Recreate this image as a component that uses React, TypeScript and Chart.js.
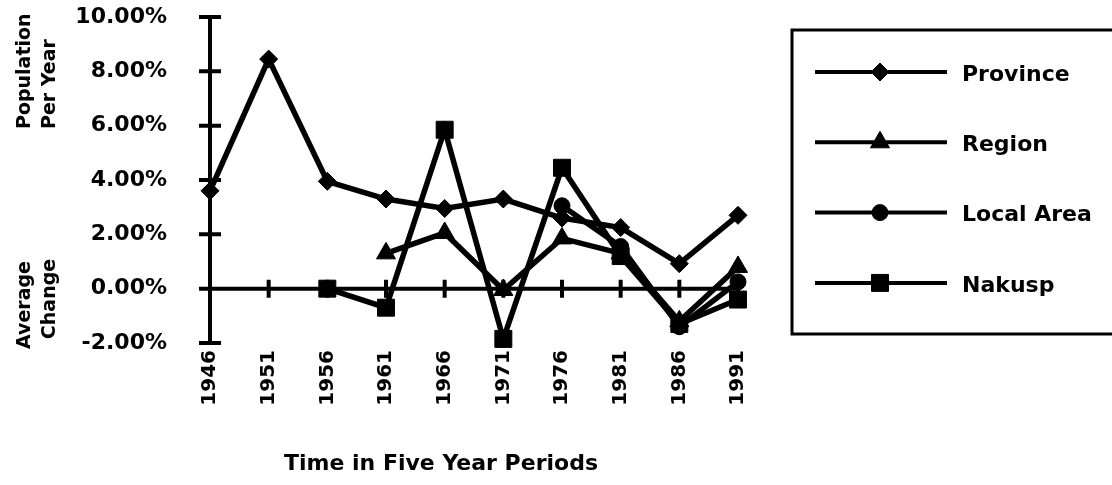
import React, { useEffect, useRef } from 'react';
import { Chart, registerables } from 'chart.js';
import { drawPoint } from 'chart.js/helpers';

Chart.register(...registerables);

// Census periods and average yearly population change (%)
const years = ['1946', '1951', '1956', '1961', '1966', '1971', '1976', '1981', '1986', '1991'];
const province = [3.6, 8.45, 3.95, 3.3, 2.95, 3.3, 2.6, 2.25, 0.92, 2.7];
const region = [null, null, null, 1.3, 2.05, -0.05, 1.85, 1.3, -1.2, 0.8];
const localArea = [null, null, null, null, null, null, 3.05, 1.55, -1.4, 0.25];
const nakusp = [null, null, 0.0, -0.7, 5.85, -1.85, 4.45, 1.2, -1.3, -0.4];

const seriesNames = ['Province', 'Region', 'Local Area', 'Nakusp'];
const yMin = -2;
const yMax = 10;
const yStep = 2;
const xTitle = 'Time in Five Year Periods';
// y title: two rotated lines, each with a lower word and an upper word
const yTitleLines = [
  ['Average', 'Population'],
  ['Change', 'Per Year'],
];

const FONT = '"DejaVu Sans", "Liberation Sans", sans-serif';
const INK = '#000';

// Axis lines that cross at zero, with tick marks straddling each line
const crossAxes = {
  id: 'crossAxes',
  beforeDatasetsDraw(chart: any) {
    const { ctx, chartArea, scales } = chart;
    const x = scales.x;
    const y = scales.y;
    const left = chartArea.left;
    const y0 = y.getPixelForValue(0);
    ctx.save();
    ctx.strokeStyle = INK;
    ctx.lineWidth = 4;
    ctx.beginPath();
    ctx.moveTo(left, y.getPixelForValue(yMax));
    ctx.lineTo(left, y.getPixelForValue(yMin));
    ctx.moveTo(left, y0);
    ctx.lineTo(chartArea.right, y0);
    y.ticks.forEach((t: any) => {
      const py = y.getPixelForValue(t.value);
      ctx.moveTo(left - 11, py);
      ctx.lineTo(left + 11, py);
    });
    x.ticks.forEach((_t: any, i: number) => {
      if (i === 0) return;
      const px = x.getPixelForValue(i);
      ctx.moveTo(px, y0 - 9);
      ctx.lineTo(px, y0 + 9);
    });
    ctx.stroke();
    ctx.restore();
  },
};

// Axis titles and the boxed legend
const annotations = {
  id: 'annotations',
  afterDraw(chart: any) {
    const { ctx, chartArea } = chart;
    ctx.save();
    ctx.fillStyle = INK;

    // x title
    ctx.font = `bold 22px ${FONT}`;
    ctx.textAlign = 'center';
    ctx.textBaseline = 'middle';
    ctx.fillText(xTitle, chartArea.left + 231, chartArea.bottom + 121);

    // y title, two rotated lines
    ctx.font = `bold 19px ${FONT}`;
    ctx.textBaseline = 'alphabetic';
    const baselines = [30, 55];
    const lowerCenters = [chartArea.top + 288, chartArea.top + 282];
    const upperStart = chartArea.top + 112;
    yTitleLines.forEach((words, i) => {
      ctx.save();
      ctx.translate(baselines[i], 0);
      ctx.rotate(-Math.PI / 2);
      // rotated frame: x runs upward, so use negative screen y
      ctx.textAlign = 'center';
      ctx.fillText(words[0], -lowerCenters[i], 0);
      ctx.textAlign = 'left';
      ctx.fillText(words[1], -upperStart, 0);
      ctx.restore();
    });

    // legend box
    const boxLeft = chartArea.right + 54;
    const boxTop = chartArea.top + 13;
    const boxBottom = chartArea.bottom - 9;
    ctx.strokeStyle = INK;
    ctx.lineWidth = 3;
    ctx.strokeRect(boxLeft, boxTop, chart.width + 10 - boxLeft, boxBottom - boxTop);

    const rowStart = boxTop + 42;
    const rowStep = 70.3;
    ctx.font = `bold 22px ${FONT}`;
    ctx.textAlign = 'left';
    ctx.textBaseline = 'middle';
    chart.data.datasets.forEach((ds: any, i: number) => {
      const ry = rowStart + i * rowStep;
      ctx.strokeStyle = INK;
      ctx.lineWidth = 4;
      ctx.beginPath();
      ctx.moveTo(boxLeft + 23, ry);
      ctx.lineTo(boxLeft + 155, ry);
      ctx.stroke();
      ctx.fillStyle = INK;
      ctx.lineWidth = 1;
      drawPoint(ctx, {
        pointStyle: ds.pointStyle,
        radius: ds.pointRadius,
        rotation: 0,
        borderWidth: 1,
      }, boxLeft + 88, ry);
      ctx.fillStyle = INK;
      ctx.fillText(ds.label, boxLeft + 170, ry + 3);
    });
    ctx.restore();
  },
};

function series(label: string, data: (number | null)[], pointStyle: string, pointRadius: number) {
  return {
    label,
    data,
    pointStyle,
    pointRadius,
    pointHoverRadius: pointRadius,
    borderColor: INK,
    backgroundColor: INK,
    pointBackgroundColor: INK,
    pointBorderColor: INK,
    pointBorderWidth: 1,
    borderWidth: 5.5,
    tension: 0,
    spanGaps: false,
    clip: false,
  };
}

export default function App() {
  const canvasRef = useRef<HTMLCanvasElement | null>(null);

  useEffect(() => {
    if (!canvasRef.current) return;
    const chart = new Chart(canvasRef.current, {
      type: 'line',
      data: {
        labels: years,
        datasets: [
          series(seriesNames[0], province, 'rectRot', 9),
          series(seriesNames[1], region, 'triangle', 11),
          series(seriesNames[2], localArea, 'circle', 8),
          series(seriesNames[3], nakusp, 'rect', 12),
        ],
      },
      options: {
        animation: false,
        responsive: true,
        maintainAspectRatio: false,
        layout: { autoPadding: false, padding: { top: 17, right: 374, bottom: 0, left: 0 } },
        plugins: {
          legend: { display: false },
          tooltip: { enabled: false },
          title: { display: false },
        },
        scales: {
          x: {
            type: 'category',
            offset: false,
            grid: { display: false, drawTicks: false },
            border: { display: false },
            ticks: {
              color: INK,
              minRotation: 90,
              maxRotation: 90,
              padding: 7,
              autoSkip: false,
              font: { family: FONT, size: 20, weight: 'bold' },
            },
            afterFit: (s: any) => { s.height = 142; },
          },
          y: {
            min: yMin,
            max: yMax,
            // tick marks themselves are drawn by crossAxes; the length only spaces the labels
            grid: { display: false, drawTicks: true, tickLength: 43 },
            border: { display: false },
            ticks: {
              stepSize: yStep,
              color: INK,
              padding: 0,
              font: { family: FONT, size: 22, weight: 'bold' },
              callback: (v: any) => `${Number(v).toFixed(2)}%`,
            },
            afterFit: (s: any) => { s.width = 210; },
          },
        },
      },
      plugins: [crossAxes, annotations],
    });
    return () => chart.destroy();
  }, []);

  return (
    <div style={{ position: 'fixed', left: 0, top: 0, width: 1112, height: 485, background: '#fff' }}>
      <canvas ref={canvasRef} />
    </div>
  );
}
